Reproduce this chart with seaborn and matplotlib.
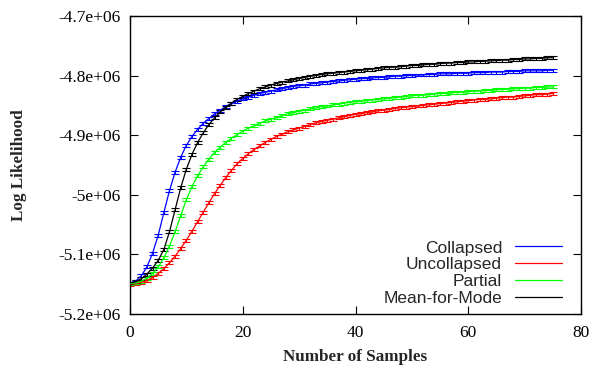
import matplotlib
matplotlib.use("Agg")
import matplotlib.pyplot as plt
import seaborn as sns
import pandas as pd
import numpy as np
from matplotlib.ticker import FuncFormatter

# ---- data (log likelihood in units of 1e6) ----
samples = list(range(0, 76))

collapsed = [-5.148, -5.145, -5.136, -5.121, -5.098, -5.068, -5.030, -4.993, -4.962, -4.937,
             -4.917, -4.902, -4.890, -4.880, -4.872, -4.864, -4.858, -4.852, -4.847, -4.843,
             -4.839, -4.836, -4.833, -4.830, -4.828, -4.826, -4.824, -4.822, -4.820, -4.818,
             -4.817, -4.816, -4.814, -4.813, -4.812, -4.811, -4.810, -4.809, -4.808, -4.807,
             -4.806, -4.805, -4.805, -4.804, -4.803, -4.803, -4.802, -4.801, -4.801, -4.800,
             -4.800, -4.799, -4.799, -4.798, -4.798, -4.797, -4.797, -4.797, -4.796, -4.796,
             -4.796, -4.795, -4.795, -4.795, -4.794, -4.794, -4.794, -4.793, -4.793, -4.793,
             -4.792, -4.792, -4.792, -4.792, -4.791, -4.791]

uncollapsed = [-5.150, -5.149, -5.147, -5.144, -5.139, -5.132, -5.124, -5.114, -5.103, -5.090,
               -5.076, -5.061, -5.045, -5.029, -5.013, -4.998, -4.984, -4.971, -4.959, -4.948,
               -4.939, -4.931, -4.924, -4.918, -4.912, -4.907, -4.902, -4.898, -4.894, -4.891,
               -4.888, -4.885, -4.882, -4.879, -4.877, -4.875, -4.873, -4.871, -4.869, -4.867,
               -4.865, -4.864, -4.862, -4.861, -4.859, -4.858, -4.857, -4.855, -4.854, -4.853,
               -4.852, -4.851, -4.850, -4.849, -4.848, -4.847, -4.846, -4.845, -4.844, -4.843,
               -4.842, -4.841, -4.840, -4.840, -4.839, -4.838, -4.837, -4.836, -4.836, -4.835,
               -4.834, -4.833, -4.832, -4.832, -4.831, -4.830]

partial = [-5.149, -5.148, -5.145, -5.140, -5.132, -5.121, -5.106, -5.086, -5.062, -5.035,
           -5.008, -4.986, -4.968, -4.953, -4.940, -4.929, -4.920, -4.912, -4.905, -4.899,
           -4.893, -4.888, -4.884, -4.880, -4.876, -4.873, -4.870, -4.867, -4.864, -4.862,
           -4.860, -4.858, -4.856, -4.854, -4.852, -4.851, -4.849, -4.848, -4.846, -4.845,
           -4.844, -4.843, -4.842, -4.841, -4.840, -4.839, -4.838, -4.837, -4.836, -4.835,
           -4.834, -4.833, -4.833, -4.832, -4.831, -4.830, -4.830, -4.829, -4.828, -4.828,
           -4.827, -4.826, -4.826, -4.825, -4.825, -4.824, -4.823, -4.823, -4.822, -4.822,
           -4.821, -4.821, -4.820, -4.820, -4.819, -4.819]

mean_for_mode = [-5.148, -5.146, -5.141, -5.133, -5.123, -5.110, -5.092, -5.062, -5.025, -4.988,
                 -4.957, -4.932, -4.912, -4.896, -4.882, -4.871, -4.861, -4.853, -4.846, -4.840,
                 -4.835, -4.830, -4.826, -4.822, -4.819, -4.816, -4.813, -4.811, -4.809, -4.807,
                 -4.805, -4.803, -4.801, -4.800, -4.798, -4.797, -4.796, -4.795, -4.794, -4.793,
                 -4.792, -4.791, -4.790, -4.789, -4.788, -4.787, -4.786, -4.786, -4.785, -4.784,
                 -4.783, -4.783, -4.782, -4.781, -4.781, -4.780, -4.779, -4.779, -4.778, -4.778,
                 -4.777, -4.777, -4.776, -4.776, -4.775, -4.775, -4.774, -4.774, -4.773, -4.773,
                 -4.772, -4.772, -4.771, -4.771, -4.770, -4.770]

series_names = ["Collapsed", "Uncollapsed", "Partial", "Mean-for-Mode"]
series_values = [collapsed, uncollapsed, partial, mean_for_mode]
series_err = [0.0025, 0.0025, 0.0025, 0.0025]   # half-height of error bars (1e6 units)
colors = ["#0000ff", "#ff0000", "#00ff00", "#000000"]

x_ticks = [0, 20, 40, 60, 80]
y_ticks = [-5.2e6, -5.1e6, -5.0e6, -4.9e6, -4.8e6, -4.7e6]

# ---- build table ----
rows = []
for name, vals in zip(series_names, series_values):
    for s, v in zip(samples, vals):
        rows.append({"samples": s, "ll": v * 1e6, "method": name})
df = pd.DataFrame(rows)

sns.set_style("ticks")
plt.rcParams["font.family"] = ["Liberation Serif", "DejaVu Serif"]

fig = plt.figure(figsize=(5.93, 3.67), dpi=100)
ax = fig.add_axes([130 / 593, 1 - 314 / 367, (581 - 130) / 593, (314 - 16) / 367])

for name, vals, err, c in zip(series_names, series_values, series_err, colors):
    ax.errorbar(samples, [v * 1e6 for v in vals], yerr=err * 1e6, fmt="none",
                ecolor=c, elinewidth=0.8, capsize=3.2, capthick=0.8, zorder=2)

sns.lineplot(data=df, x="samples", y="ll", hue="method", hue_order=series_names,
             palette=colors, linewidth=0.9, ax=ax, legend=True, zorder=3)

ax.set_xlim(0, 80)
ax.set_ylim(-5.2e6, -4.7e6)
ax.set_xticks(x_ticks)
ax.set_yticks(y_ticks)
ax.yaxis.set_major_formatter(FuncFormatter(lambda v, p: f"{v:g}"))
ax.xaxis.set_major_formatter(FuncFormatter(lambda v, p: f"{v:g}"))
ax.tick_params(direction="in", length=6, width=0.8, top=True, right=True,
               labelsize=12.5, colors="black")
ax.tick_params(axis="x", pad=8)
ax.tick_params(axis="y", pad=7)
for sp in ax.spines.values():
    sp.set_linewidth(1.0)
    sp.set_color("black")

ax.set_xlabel("Number of Samples", fontsize=12.3, fontweight="bold", labelpad=6)
ax.set_ylabel("Log Likelihood", fontsize=12.3, fontweight="bold", labelpad=22)

handles, labels = ax.get_legend_handles_labels()
leg = ax.legend(handles, labels, loc="lower right", frameon=False, markerfirst=False,
                prop={"family": ["Liberation Sans", "DejaVu Sans"], "size": 12.5},
                handlelength=2.7, handletextpad=0.75, labelspacing=0.1,
                borderaxespad=0.05, bbox_to_anchor=(0.975, 0.0))
for h in leg.get_lines():
    h.set_linewidth(0.9)

fig.savefig("out.png", dpi=100)
